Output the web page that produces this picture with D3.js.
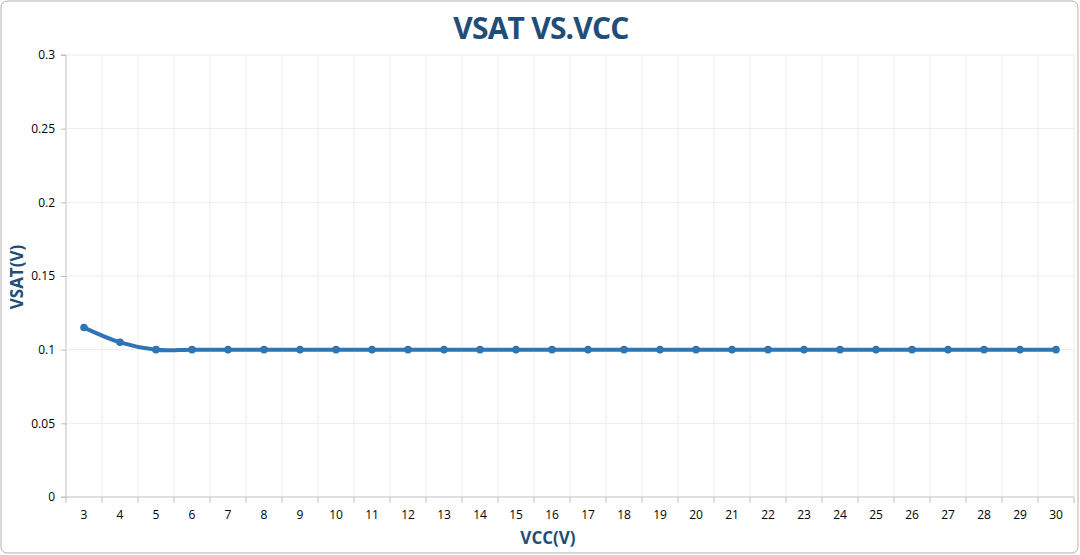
<!DOCTYPE html>
<html>
<head>
<meta charset="utf-8">
<script src="https://cdn.jsdelivr.net/npm/d3@7"></script>
<style>
  html, body { margin: 0; padding: 0; background: #fff; overflow: hidden; }
  svg { display: block; }
  text { font-family: "Open Sans", "Noto Sans", sans-serif; }
</style>
</head>
<body>
<div id="chart"></div>
<script>
var vcc = [3,4,5,6,7,8,9,10,11,12,13,14,15,16,17,18,19,20,21,22,23,24,25,26,27,28,29,30];
var vsat = [0.115,0.105,0.1,0.1,0.1,0.1,0.1,0.1,0.1,0.1,0.1,0.1,0.1,0.1,0.1,0.1,0.1,0.1,0.1,0.1,0.1,0.1,0.1,0.1,0.1,0.1,0.1,0.1];
var yTicks = [0,0.05,0.1,0.15,0.2,0.25,0.3];

var outerWidth = 1080;
var outerHeight = 555;
var margin = { left: 66, top: 55, right: 6, bottom: 58 };
var innerWidth  = outerWidth  - margin.left - margin.right;
var innerHeight = outerHeight - margin.top  - margin.bottom;

var titleColor = '#1f4e79';
var lineColor = '#2e75b6';

var svg = d3.select('#chart').append('svg')
    .attr('width', outerWidth)
    .attr('height', outerHeight);

// chart border
svg.append('rect')
    .attr('x', 1).attr('y', 1)
    .attr('width', outerWidth - 3).attr('height', outerHeight - 3)
    .attr('rx', 6)
    .attr('fill', '#fff')
    .attr('stroke', '#b0b0b0')
    .attr('stroke-width', 1);

var g = svg.append('g')
    .attr('transform', 'translate(' + margin.left + ',' + margin.top + ')');

var xScale = d3.scaleBand().domain(vcc).range([0, innerWidth]);
var yScale = d3.scaleLinear().domain([0, 0.3]).range([innerHeight, 0]);

// horizontal grid
g.append('g').selectAll('line')
    .data(yTicks.slice(1))
    .enter().append('line')
    .attr('x1', 0).attr('x2', innerWidth)
    .attr('y1', function (d) { return yScale(d); })
    .attr('y2', function (d) { return yScale(d); })
    .attr('stroke', '#ededed')
    .attr('stroke-width', 1);

// vertical grid at category boundaries
g.append('g').selectAll('line')
    .data(d3.range(1, vcc.length + 1))
    .enter().append('line')
    .attr('x1', function (i) { return xScale.step() * i; })
    .attr('x2', function (i) { return xScale.step() * i; })
    .attr('y1', 0).attr('y2', innerHeight)
    .attr('stroke', '#ededed')
    .attr('stroke-width', 1);

// y axis
var yAxis = d3.axisLeft(yScale)
    .tickValues(yTicks)
    .tickFormat(function (d) { return String(+d.toFixed(2)); })
    .tickSize(5)
    .tickPadding(6);
var yAxisG = g.append('g').call(yAxis);
yAxisG.select('.domain').attr('stroke', '#bfbfbf').attr('d', 'M-5,0H0V' + innerHeight + 'H-5');
yAxisG.selectAll('.tick line').attr('stroke', '#bfbfbf');
yAxisG.selectAll('.tick text')
    .attr('font-size', 12).attr('fill', '#000')
    .style('font-family', '"Open Sans", sans-serif');

// x axis, ticks between categories
var xAxisG = g.append('g')
    .attr('transform', 'translate(0,' + innerHeight + ')');
xAxisG.append('line')
    .attr('x1', 0).attr('x2', innerWidth)
    .attr('stroke', '#bfbfbf');
xAxisG.selectAll('.xt')
    .data(d3.range(vcc.length + 1))
    .enter().append('line')
    .attr('class', 'xt')
    .attr('x1', function (i) { return xScale.step() * i; })
    .attr('x2', function (i) { return xScale.step() * i; })
    .attr('y1', 0).attr('y2', 6)
    .attr('stroke', '#bfbfbf');
xAxisG.selectAll('.xl')
    .data(vcc)
    .enter().append('text')
    .attr('class', 'xl')
    .attr('x', function (d) { return xScale(d) + xScale.bandwidth() / 2; })
    .attr('y', 22)
    .attr('text-anchor', 'middle')
    .attr('font-size', 12)
    .attr('fill', '#000')
    .text(function (d) { return d; });

// line
var line = d3.line()
    .x(function (d, i) { return xScale(vcc[i]) + xScale.bandwidth() / 2; })
    .y(function (d) { return yScale(d); })
    .curve(d3.curveCardinal.tension(0));

g.append('path')
    .attr('fill', 'none')
    .attr('stroke', lineColor)
    .attr('stroke-width', 4)
    .attr('stroke-linecap', 'round')
    .attr('d', line(vsat));

g.append('g').selectAll('circle')
    .data(vsat)
    .enter().append('circle')
    .attr('cx', function (d, i) { return xScale(vcc[i]) + xScale.bandwidth() / 2; })
    .attr('cy', function (d) { return yScale(d); })
    .attr('r', 3.8)
    .attr('fill', lineColor);

// titles
svg.append('text')
    .attr('x', 541).attr('y', 39)
    .attr('text-anchor', 'middle')
    .attr('font-size', 30)
    .attr('font-weight', 'bold')
    .attr('fill', titleColor)
    .attr('letter-spacing', -0.8)
    .text('VSAT VS.VCC');

svg.append('text')
    .attr('x', 548).attr('y', 544)
    .attr('text-anchor', 'middle')
    .attr('font-size', 17)
    .attr('font-weight', 'bold')
    .attr('fill', titleColor)
    .text('VCC(V)');

svg.append('text')
    .attr('transform', 'translate(23,277) rotate(-90)')
    .attr('text-anchor', 'middle')
    .attr('font-size', 17)
    .attr('font-weight', 'bold')
    .attr('fill', titleColor)
    .text('VSAT(V)');
</script>
</body>
</html>
